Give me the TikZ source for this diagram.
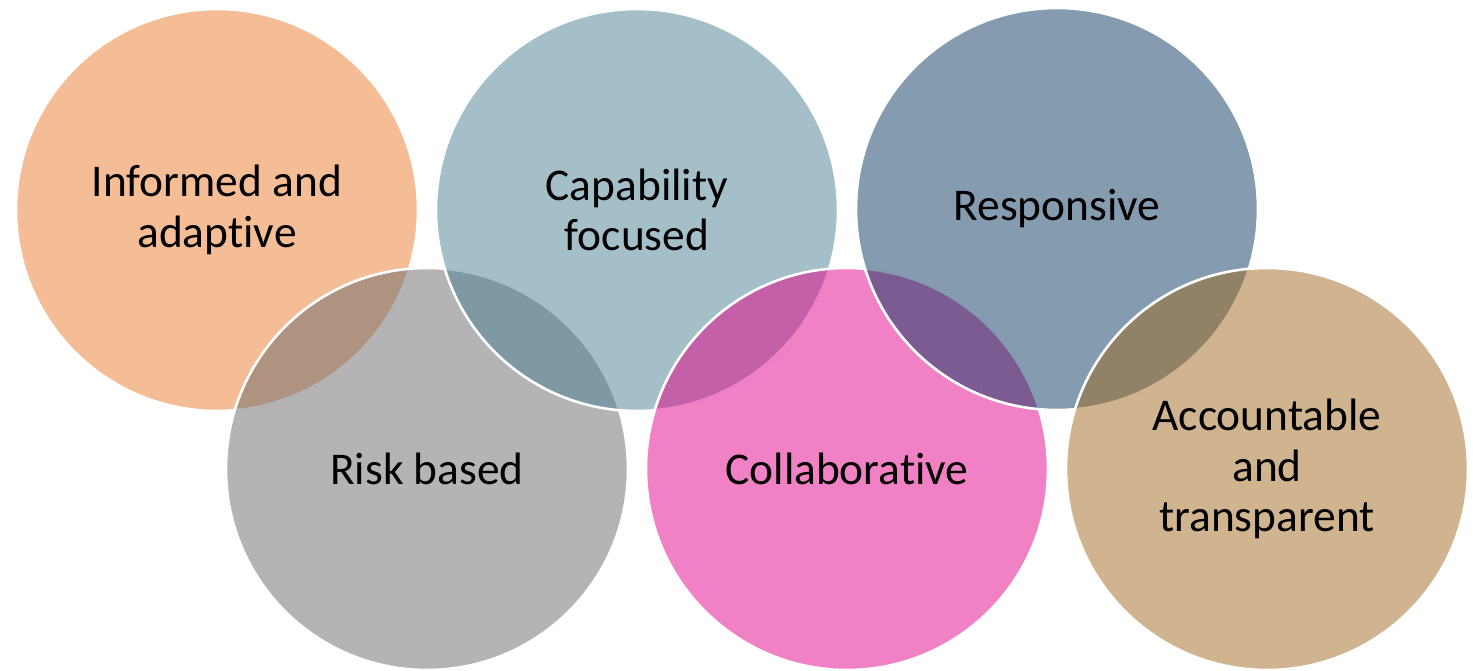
\documentclass[tikz,border=0pt]{standalone}
\usepackage{fontspec}
\setmainfont{Carlito}[Ligatures=NoCommon]
\definecolor{informcol}{RGB}{235,123,45}
\definecolor{riskcol}{RGB}{105,105,109}
\definecolor{capcol}{RGB}{75,127,147}
\definecolor{collabcol}{RGB}{225,3,137}
\definecolor{respcol}{RGB}{9,55,97}
\definecolor{acccol}{RGB}{159,105,31}
\tikzset{
  bubble/.style={circle, draw=white, line width=1.3pt, minimum size=201pt, inner sep=0pt,
    fill opacity=0.5, draw opacity=1, text opacity=1, align=center,
    font=\fontsize{22.7pt}{25.3pt}\selectfont}
}
\begin{document}
\begin{tikzpicture}[x=0.5pt, y=-0.5pt]
        \useasboundingbox (0,0) rectangle (1473,670);
        \node[bubble, fill=informcol] (inform) at (217,210) {Informed and\\adaptive};
        \node[bubble, fill=riskcol] (risk) at (427,469) {Risk based};
        \node[bubble, fill=capcol] (capab) at (637,210) {Capability\\focused};
        \node[bubble, fill=collabcol] (collab) at (847,469) {Collaborative};
        \node[bubble, fill=respcol] (respon) at (1057,209) {Responsive};
        \node[bubble, fill=acccol] (account) at (1267,469) {Accountable\\and\\transparent};
      \end{tikzpicture}
\end{document}
